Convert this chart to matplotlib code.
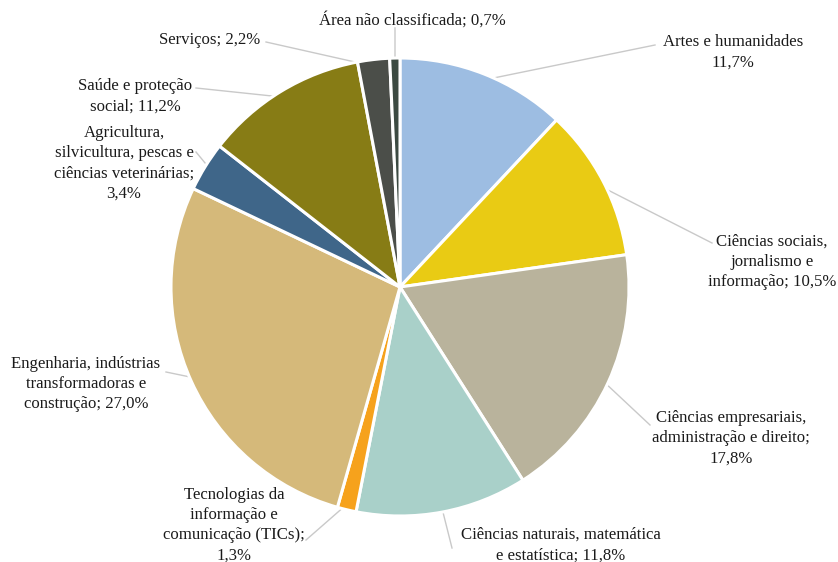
import numpy as np
import matplotlib
matplotlib.use('Agg')
import matplotlib.pyplot as plt

# shares by field of study, clockwise from the top
areas = ['Artes e humanidades',
         'Ciências sociais,\njornalismo e\ninformação',
         'Ciências empresariais,\nadministração e direito;',
         'Ciências naturais, matemática\ne estatística',
         'Tecnologias da\ninformação e\ncomunicação (TICs);',
         'Engenharia, indústrias\ntransformadoras e\nconstrução',
         'Agricultura,\nsilvicultura, pescas e\nciências veterinárias;',
         'Saúde e proteção\nsocial',
         'Serviços',
         'Área não classificada']
shares = [11.7, 10.5, 17.8, 11.8, 1.3, 27.0, 3.4, 11.2, 2.2, 0.7]
seps = ['\n', '; ', '\n', '; ', '\n', '; ', '\n', '; ', '; ', '; ']
colors = ['#9dbde2', '#e9cb14', '#b9b39c', '#a9d0c9', '#f6a21c',
          '#d5b97a', '#3f6689', '#877c15', '#4b4e49', '#3c4a42']

# label centre and leader line start, in pixels
label_pos = [(733, 52), (772, 262), (731, 438), (561, 545), (234, 525),
             (86, 384), (124, 163), (135, 96), (210, 40), (412, 20)]
line_start = [(655, 45), (712, 243), (650, 425), (452, 548), (306, 540),
              (166, 372), (196, 152), (196, 88), (266, 42), (395, 28)]

W, H = 838, 562
fig = plt.figure(figsize=(W / 100, H / 100), dpi=100)
ax = fig.add_axes([0, 0, 1, 1])

cx, cy, r = 400, 287, 229
# y axis runs downward, so start at -90 and go counterclockwise in data terms
wedges, _ = ax.pie(shares, colors=colors, startangle=-90, counterclock=True,
                   center=(cx, cy), radius=r, frame=True,
                   wedgeprops=dict(edgecolor='white', linewidth=2.2))
ax.set_xlim(0, W)
ax.set_ylim(H, 0)
ax.set_aspect('equal')
ax.axis('off')

for w, name, val, sep, lp, ls in zip(wedges, areas, shares, seps, label_pos, line_start):
    mid = np.deg2rad((w.theta1 + w.theta2) / 2)
    ex = cx + r * 0.97 * np.cos(mid)
    ey = cy + r * 0.97 * np.sin(mid)
    ax.plot([ls[0], ex], [ls[1], ey], color='#c9c9c9', lw=1, zorder=0.5)
    text = f'{name}{sep}{val:.1f}%'.replace('.', ',')
    ax.text(lp[0], lp[1], text, ha='center', va='center', fontsize=12.1,
            family='Liberation Serif', color='#1a1a1a', linespacing=1.36)

fig.savefig('out.png', dpi=100)
